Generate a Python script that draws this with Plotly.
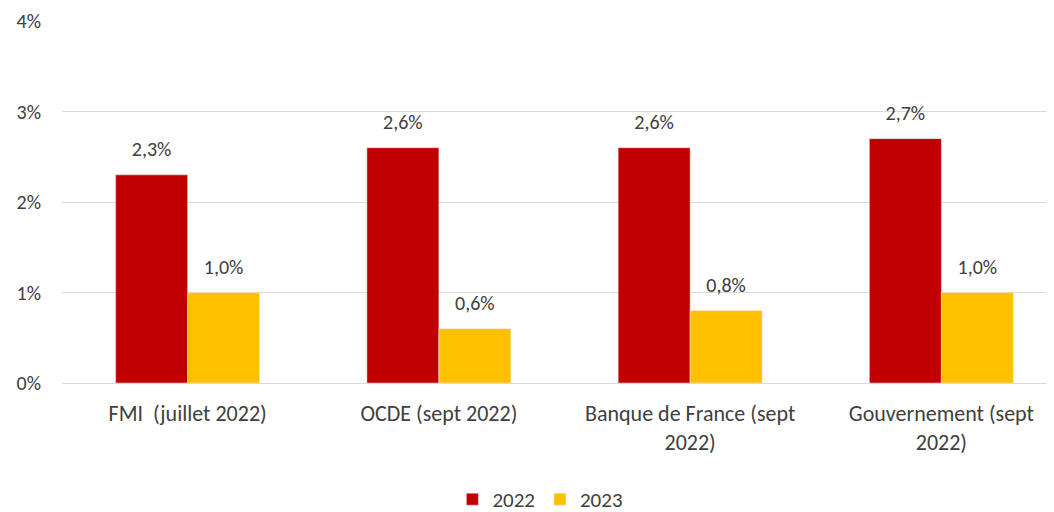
import plotly.graph_objects as go

categories = ["FMI  (juillet 2022)", "OCDE (sept 2022)",
              "Banque de France (sept<br>2022)", "Gouvernement (sept<br>2022)"]
values_2022 = [2.3, 2.6, 2.6, 2.7]
values_2023 = [1.0, 0.6, 0.8, 1.0]

font_family = "Carlito, Lato, 'Open Sans', sans-serif"
text_color = "#404040"

fig = go.Figure()
for name, vals, color in [("2022", values_2022, "#c00000"),
                          ("2023", values_2023, "#ffc000")]:
    fig.add_trace(go.Bar(name=name, x=categories, y=vals,
                         marker_color=color, offsetgroup=name))
    # data labels, a bit above the bars like in excel
    fig.add_trace(go.Scatter(x=categories, y=vals, offsetgroup=name,
                             mode="markers+text", showlegend=False,
                             texttemplate="%{y:.1f}%", textposition="top center",
                             textfont=dict(size=20, color=text_color),
                             marker=dict(size=20, opacity=0),
                             hoverinfo="skip", cliponaxis=False))

# page body has an 8px margin, so shift margins to compensate;
# the original plot area runs past the right edge of the picture
fig.update_layout(
    width=1070, height=512,
    barmode="group", bargap=0.427, bargroupgap=0,
    scattermode="group", scattergap=0.427,
    separators=", ",
    plot_bgcolor="white", paper_bgcolor="white",
    font=dict(family=font_family, size=21, color=text_color),
    margin=dict(l=54, r=11, t=13, b=137, autoexpand=False),
    legend=dict(orientation="h", x=0.476, xanchor="center", y=-0.322,
                yanchor="middle", font=dict(size=21)),
    xaxis=dict(showgrid=False, showline=True, linecolor="#d9d9d9",
               ticks="", tickfont=dict(size=22), ticklabelstandoff=11),
    yaxis=dict(range=[0, 4], dtick=1, ticksuffix="%", showgrid=True,
               gridcolor="#d9d9d9", zeroline=False, ticks="",
               tickfont=dict(size=20), ticklabelstandoff=20),
)

fig.write_html("out.html")
